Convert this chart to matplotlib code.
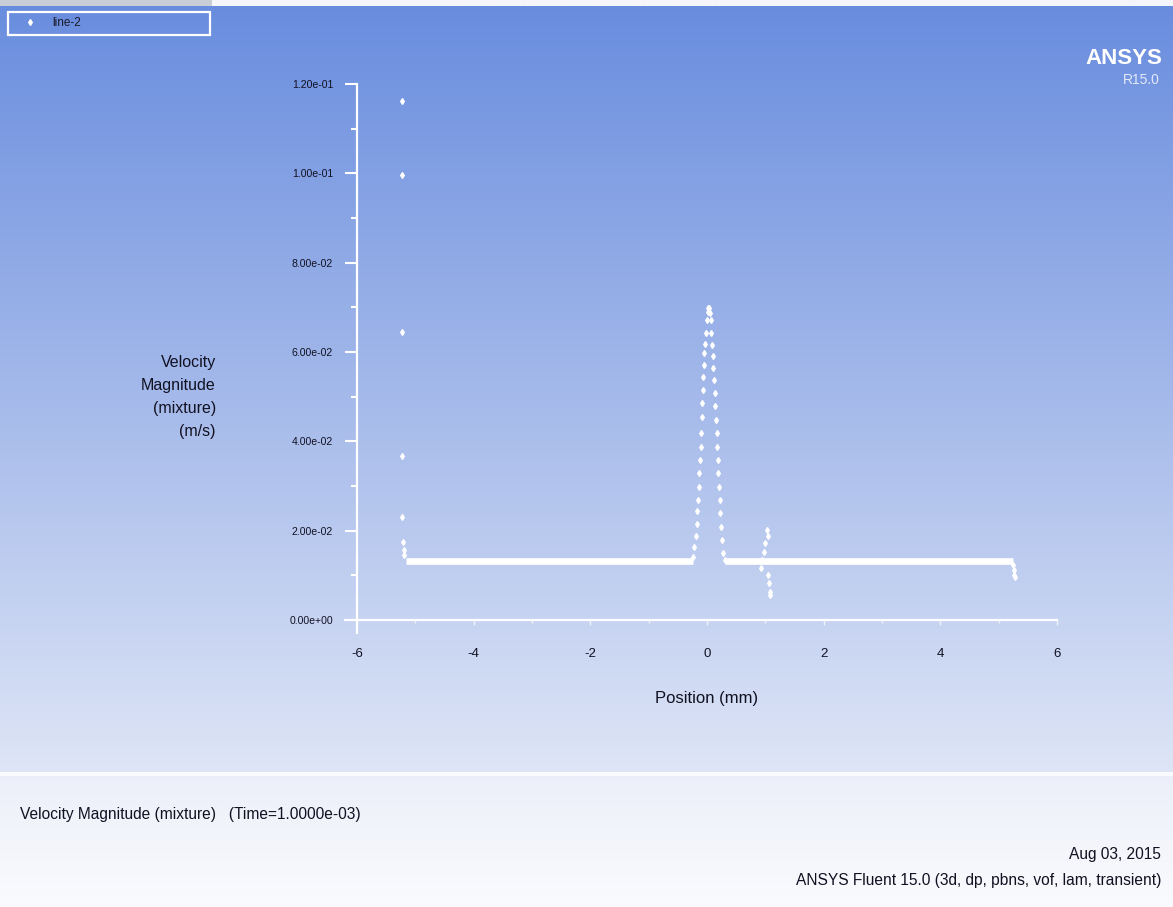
import numpy as np
import matplotlib
matplotlib.use("Agg")
import matplotlib.pyplot as plt
from matplotlib.patches import Rectangle
from matplotlib.ticker import MultipleLocator, FixedLocator

plt.rcParams['font.family'] = ['Liberation Sans', 'DejaVu Sans']

# ---------------- data ----------------
series_name = "line-2"

spike_x = [-5.23, -5.23, -5.23, -5.22, -5.22, -5.21, -5.20, -5.19]
spike_y = [0.1163, 0.0996, 0.0645, 0.0368, 0.0231, 0.0174, 0.0157, 0.0145]

peak_left_x = [-0.246, -0.217, -0.194, -0.177, -0.166, -0.154, -0.143, -0.131, -0.120,
               -0.109, -0.103, -0.091, -0.080, -0.074, -0.063, -0.051, -0.046, -0.029,
               -0.017, -0.006, 0.010, 0.022]
peak_left_y = [0.0142, 0.0164, 0.0187, 0.0216, 0.0243, 0.0269, 0.0298, 0.0328, 0.0358,
               0.0388, 0.0418, 0.0455, 0.0485, 0.0515, 0.0545, 0.0571, 0.0597, 0.0619,
               0.0642, 0.0672, 0.0690, 0.0698]

peak_right_x = [0.034, 0.050, 0.063, 0.074, 0.086, 0.097, 0.109, 0.120, 0.131, 0.143,
                0.154, 0.166, 0.177, 0.183, 0.194, 0.206, 0.217, 0.229, 0.240, 0.257,
                0.280, 0.314]
peak_right_y = [0.0698, 0.0688, 0.0672, 0.0642, 0.0616, 0.0590, 0.0564, 0.0538, 0.0508,
                0.0478, 0.0448, 0.0418, 0.0388, 0.0358, 0.0328, 0.0298, 0.0269, 0.0239,
                0.0209, 0.0179, 0.0149, 0.0134]

wiggle_x = [1.02, 1.04, 1.00, 0.98, 0.94, 0.93, 1.05, 1.06, 1.08, 1.08]
wiggle_y = [0.0201, 0.0187, 0.0172, 0.0153, 0.0134, 0.0116, 0.0101, 0.0082, 0.0063, 0.0057]

end_x = [5.25, 5.26, 5.27, 5.28]
end_y = [0.0123, 0.0112, 0.0101, 0.0096]

baseline_start = [-5.16, 0.30]
baseline_end = [-0.24, 5.25]
baseline_y = [0.0132, 0.0132]

y_ticks = [0.0, 0.02, 0.04, 0.06, 0.08, 0.10, 0.12]
y_tick_labels = ["0.00e+00", "2.00e-02", "4.00e-02", "6.00e-02", "8.00e-02", "1.00e-01", "1.20e-01"]
x_ticks = [-6, -4, -2, 0, 2, 4, 6]
x_tick_labels = ["-6", "-4", "-2", "0", "2", "4", "6"]

# ---------------- figure ----------------
W, H = 1173, 907
fig = plt.figure(figsize=(W / 100, H / 100), dpi=100)

def fx(px):
    return px / W

def fy(py):
    return 1 - py / H

# background gradient
bg = fig.add_axes([0, 0, 1, 1], zorder=0)
rows = np.zeros((H, 1, 3))
top_c = np.array([104, 140, 222]) / 255
mid_c = np.array([222, 229, 246]) / 255
for r in range(H):
    if r < 772:
        t = r / 772
        rows[r, 0] = top_c * (1 - t) + mid_c * t
    else:
        t = (r - 772) / (H - 772)
        rows[r, 0] = np.array([236, 239, 249]) / 255 * (1 - t) + np.array([250, 251, 254]) / 255 * t
rows[0:6, 0] = np.array([245, 246, 250]) / 255
rows[772:776, 0] = np.array([250, 251, 255]) / 255
bg.imshow(rows, extent=[0, W, H, 0], aspect='auto', interpolation='bilinear')
bg.add_patch(Rectangle((0, 0), 212, 6, facecolor='#c9cdd6', edgecolor='none'))
bg.set_xlim(0, W)
bg.set_ylim(H, 0)
bg.axis('off')

# legend box (manual, figure pixel coords)
bg.add_patch(Rectangle((8, 12), 202, 23, facecolor='none', edgecolor='white', linewidth=1.6))
bg.plot([30], [22], marker='d', color='white', markersize=3, linestyle='none')
bg.text(52, 22.5, series_name, fontsize=8.5, color='#1a1a2a', va='center', ha='left')

# main axes
xlo, xhi = -6.2, 6.1
ylo, yhi = -0.003, 0.121
px_per_x = 700 / 12
px_per_y = 536 / 0.12
left_px = 357 + (xlo + 6) * px_per_x
right_px = 357 + (xhi + 6) * px_per_x
bottom_px = 620 - ylo * px_per_y
top_px = 620 - yhi * px_per_y
ax = fig.add_axes([fx(left_px), fy(bottom_px), fx(right_px - left_px), (bottom_px - top_px) / H],
                  zorder=1)
ax.set_facecolor('none')
ax.set_xlim(xlo, xhi)
ax.set_ylim(ylo, yhi)

for s in ['top', 'right']:
    ax.spines[s].set_visible(False)
ax.spines['left'].set_position(('data', -6))
ax.spines['left'].set_bounds(ylo, 0.12)
ax.spines['bottom'].set_position(('data', 0))
ax.spines['bottom'].set_bounds(xlo, 6.0)
for s in ['left', 'bottom']:
    ax.spines[s].set_color('white')
    ax.spines[s].set_linewidth(1.6)

ax.yaxis.set_major_locator(FixedLocator(y_ticks))
ax.set_yticklabels(y_tick_labels)
ax.yaxis.set_minor_locator(MultipleLocator(0.01))
ax.xaxis.set_major_locator(FixedLocator(x_ticks))
ax.set_xticklabels(x_tick_labels)
ax.xaxis.set_minor_locator(MultipleLocator(1))

ax.tick_params(axis='y', which='major', direction='out', length=8.6, width=1.5, color='white',
               labelsize=7.6, labelcolor='#111122', pad=8.5)
ax.tick_params(axis='y', which='minor', direction='out', length=4.3, width=1.5, color='white')
ax.tick_params(axis='x', which='major', direction='out', length=3.5, width=1.0, color='#eef2fb',
               labelsize=9.5, labelcolor='#111122', pad=17)
ax.tick_params(axis='x', which='minor', direction='out', length=2.5, width=1.0, color='#eef2fb')

# data
ax.hlines(baseline_y, baseline_start, baseline_end, colors='white', linewidth=4.8, zorder=3)
mk = dict(marker='d', color='white', markersize=3.0, linestyle='none', clip_on=False, zorder=4)
ax.plot(spike_x, spike_y, **mk)
ax.plot(peak_left_x, peak_left_y, **mk)
ax.plot(peak_right_x, peak_right_y, **mk)
ax.plot(wiggle_x, wiggle_y, **mk)
ax.plot(end_x, end_y, **mk)

# axis labels
fig.text(fx(707), fy(698), "Position (mm)", fontsize=12, color='#111122', ha='center', va='center')
fig.text(fx(216), fy(397), "Velocity\nMagnitude\n(mixture)\n(m/s)", fontsize=11.5, color='#111122',
         ha='right', va='center', linespacing=1.65, multialignment='right')

# ANSYS logo
fig.text(fx(1162), fy(58), "ANSYS", fontsize=16, fontweight='bold', color='white',
         ha='right', va='center')
fig.text(fx(1160), fy(80), "R15.0", fontsize=10, color='#e3e9f8', ha='right', va='center')

# footer
foot = dict(fontsize=11.2, color='#111122', va='center')
fig.text(fx(20), fy(815), "Velocity Magnitude (mixture)   (Time=1.0000e-03)", ha='left', **foot)
fig.text(fx(1161), fy(855), "Aug 03, 2015", ha='right', **foot)
fig.text(fx(1161), fy(880), "ANSYS Fluent 15.0 (3d, dp, pbns, vof, lam, transient)", ha='right', **foot)

fig.savefig("out.png", dpi=100)
